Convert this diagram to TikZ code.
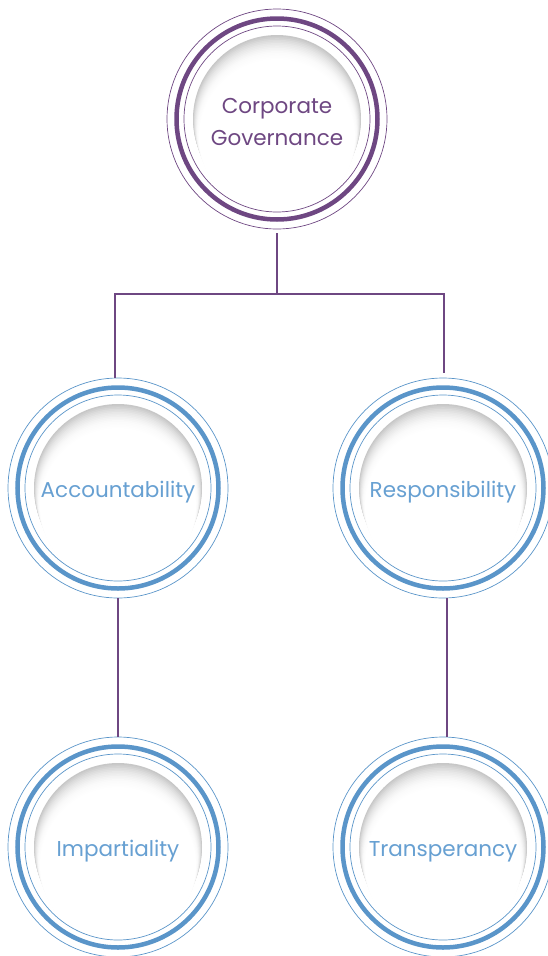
\documentclass[tikz,border=0pt]{standalone}
\usepackage{fontspec}
\setmainfont{Poppins}
\definecolor{govpurple}{HTML}{6E4782}
\definecolor{pillarblue}{HTML}{5A95C9}
\definecolor{pillartext}{HTML}{67A0D2}
\tikzset{
  ringnode/.style={circle, minimum size=220pt, inner sep=0pt, draw=#1, line width=0.7pt,
    align=center, font=\fontsize{21.5}{32}\selectfont,
    path picture={
      \coordinate (ctr) at (path picture bounding box.center);
      \draw[#1, line width=4.5pt] (ctr) circle (100.5pt);
      \draw[#1, line width=0.7pt] (ctr) circle (93pt);
    }},
  pillar/.style={ringnode=pillarblue, text=pillartext, align=none, text height=20pt, text depth=2pt},
  link/.style={govpurple, line width=2pt}
}
\begin{document}
\begin{tikzpicture}[x=1pt,y=-1pt]
  \useasboundingbox (0,0) rectangle (548,956);
  \clip (0,0) rectangle (548,956);
  % shaded discs (soft shadow at the top edge)
  \foreach \cx/\cy in {277/119,118/488,443/488,118/847,443/847}
    \foreach \i in {0,...,16}{
      \pgfmathsetmacro{\shadeamt}{22*(1-\i/16)^2.2}
      \fill[black!\shadeamt!white] (\cx,\cy+1.2*\i) circle (84-0.4*\i);
    }
  % top node
  \node[ringnode=govpurple, text=govpurple] (gov) at (277,119) {\rule{0pt}{22pt}Corporate\\Governance};
  % pillars
  \node[pillar] (acc) at (118,488) {Accountability};
  \node[pillar] (resp) at (443,488) {Responsibility};
  \node[pillar] (imp) at (118,847) {Impartiality};
  \node[pillar] (trans) at (443,847) {Transperancy};
  % connectors
  \coordinate (fork) at ([yshift=-65pt]gov.south);
  \draw[link] ([yshift=-4pt]gov.south) -- (fork);
  \draw[link] ([xshift=-3pt]acc.north) |- ([xshift=1pt]fork) -| ([xshift=1pt,yshift=5pt]resp.north);
  \draw[link] (acc.south) -- (imp.north);
  \draw[link] ([xshift=4pt]resp.south) -- ([xshift=4pt]trans.north);
\end{tikzpicture}
\end{document}
